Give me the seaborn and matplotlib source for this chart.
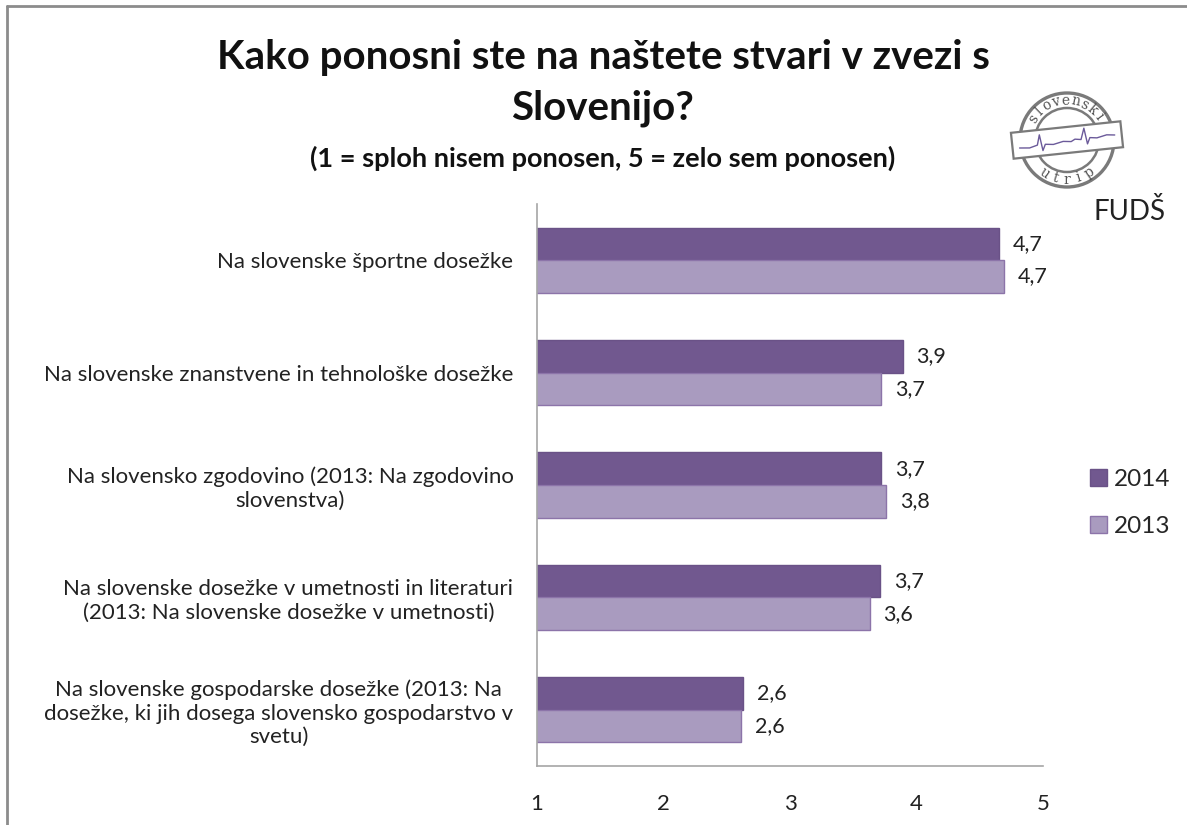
import numpy as np
import pandas as pd
import seaborn as sns
import matplotlib.pyplot as plt
from matplotlib.patches import Circle, Polygon
from matplotlib.lines import Line2D

# podatki
categories = [
    "Na slovenske športne dosežke",
    "Na slovenske znanstvene in tehnološke dosežke",
    "Na slovensko zgodovino (2013: Na zgodovino\nslovenstva)",
    "Na slovenske dosežke v umetnosti in literaturi\n(2013: Na slovenske dosežke v umetnosti)",
    "Na slovenske gospodarske dosežke (2013: Na\ndosežke, ki jih dosega slovensko gospodarstvo v\nsvetu)",
]
values_2014 = [4.65, 3.89, 3.72, 3.71, 2.63]
values_2013 = [4.69, 3.72, 3.76, 3.63, 2.61]
years = ["2014", "2013"]
x_ticks = [1, 2, 3, 4, 5]

df = pd.DataFrame({
    "kategorija": categories * 2,
    "leto": ["2014"] * len(categories) + ["2013"] * len(categories),
    "vrednost": values_2014 + values_2013,
})

sns.set_theme(style="white")
plt.rcParams["font.family"] = ["Lato", "DejaVu Sans"]

W, H = 1187, 825
fig = plt.figure(figsize=(W / 100, H / 100), dpi=100)
ax = fig.add_axes([537 / W, 1 - 766 / H, (1043 - 537) / W, (766 - 204) / H])

colors = {"2014": "#71588f", "2013": "#a99bbf"}
sns.barplot(data=df, y="kategorija", x="vrednost", hue="leto", hue_order=years,
            order=categories, palette=colors, width=0.58, orient="h",
            saturation=1, ax=ax, legend=False)

edge = {"2014": "#6a5287", "2013": "#8c74a9"}
for cont, yr in zip(ax.containers, years):
    for bar in cont:
        bar.set_edgecolor(edge[yr])
        bar.set_linewidth(1)
    labels = [f"{v:.1f}".replace(".", ",") for v in cont.datavalues]
    ax.bar_label(cont, labels=labels, padding=10, fontsize=15.5, color="#222222")

ax.set_xlim(1, 5)
ax.set_ylim(4.5, -0.5)
ax.set_xticks(x_ticks)
ax.set_xticklabels([str(t) for t in x_ticks], fontsize=16, color="#222222")
ax.set_xlabel("")
ax.set_ylabel("")
ax.tick_params(axis="x", length=0, pad=20)
ax.tick_params(axis="y", length=0, pad=17)
for lab in ax.get_yticklabels():
    lab.set_fontsize(16)
    lab.set_color("#222222")
    lab.set_multialignment("center")
    lab.set_linespacing(1.2)
for side in ["top", "right"]:
    ax.spines[side].set_visible(False)
for side in ["left", "bottom"]:
    ax.spines[side].set_color("#a6a6a6")
    ax.spines[side].set_linewidth(1.2)

# legenda
handles = [plt.Rectangle((0, 0), 1, 1, facecolor=colors[y], edgecolor=edge[y]) for y in years]
fig.legend(handles, years, loc="center left", bbox_to_anchor=(1068 / W, 1 - 503 / H),
           frameon=False, fontsize=17.5, handlelength=0.7, handleheight=0.7,
           handletextpad=0.3, labelspacing=1.1)

# naslov
fig.text(603 / W, 1 - 58 / H, "Kako ponosni ste na naštete stvari v zvezi s", ha="center",
         va="center", fontsize=29, fontweight="bold", color="#111111")
fig.text(603 / W, 1 - 108 / H, "Slovenijo?", ha="center", va="center", fontsize=29,
         fontweight="bold", color="#111111")
fig.text(603 / W, 1 - 158 / H, "(1 = sploh nisem ponosen, 5 = zelo sem ponosen)", ha="center",
         va="center", fontsize=19.5, fontweight="bold", color="#111111")

# logotip
lx0, ly0, lw, lh = 1005, 82, 135, 118
lax = fig.add_axes([lx0 / W, 1 - (ly0 + lh) / H, lw / W, lh / H])
lax.set_xlim(0, lw)
lax.set_ylim(lh, 0)
lax.axis("off")
cx, cy = 1067 - lx0, 140 - ly0
lax.add_patch(Circle((cx, cy), 47, fill=False, lw=2.4, ec="#7a7a7a"))
lax.add_patch(Circle((cx, cy), 32, fill=False, lw=1.8, ec="#7a7a7a"))
ang = np.deg2rad(6)
bx = np.array([-55, 55, 55, -55])
by = np.array([-13, -13, 13, 13])
px = cx + bx * np.cos(ang) + by * np.sin(ang)
py = cy - bx * np.sin(ang) + by * np.cos(ang)
lax.add_patch(Polygon(np.column_stack([px, py]), closed=True, fc="white", ec="#7a7a7a", lw=1.6))
ex = np.array([-48, -38, -30, -27, -25, -22, -14, -4, 4, 8, 14, 18, 20, 23, 30, 40, 48])
ey = np.array([3, 4, 2, -8, 8, 2, 3, 1, 2, 0, 1, -10, 6, 0, 1, -1, 0])
lax.add_line(Line2D(cx + ex * np.cos(ang) + ey * np.sin(ang),
                    cy - ex * np.sin(ang) + ey * np.cos(ang), color="#6b5a9a", lw=1))
for i, ch in enumerate("slovenski"):
    th = np.deg2rad(148 - i * 14)
    lax.text(cx + 39.5 * np.cos(th), cy - 39.5 * np.sin(th), ch, rotation=np.rad2deg(th) - 90,
             ha="center", va="center", fontsize=10, family="DejaVu Serif", color="#555555")
for i, ch in enumerate("utrip"):
    th = np.deg2rad(236 + i * 17)
    lax.text(cx + 39.5 * np.cos(th), cy - 39.5 * np.sin(th), ch, rotation=np.rad2deg(th) + 90,
             ha="center", va="center", fontsize=10, family="DejaVu Serif", color="#555555")
fig.text(1130 / W, 1 - 212 / H, "FUDŠ", ha="center", va="center", fontsize=20, color="#222222")

# okvir
fig.add_artist(Line2D([7 / W, 7 / W], [0, 1 - 6 / H], color="#8c8c8c", lw=2))
fig.add_artist(Line2D([7 / W, 1], [1 - 6 / H, 1 - 6 / H], color="#8c8c8c", lw=2))

fig.savefig("out.png", dpi=100, facecolor="white")
